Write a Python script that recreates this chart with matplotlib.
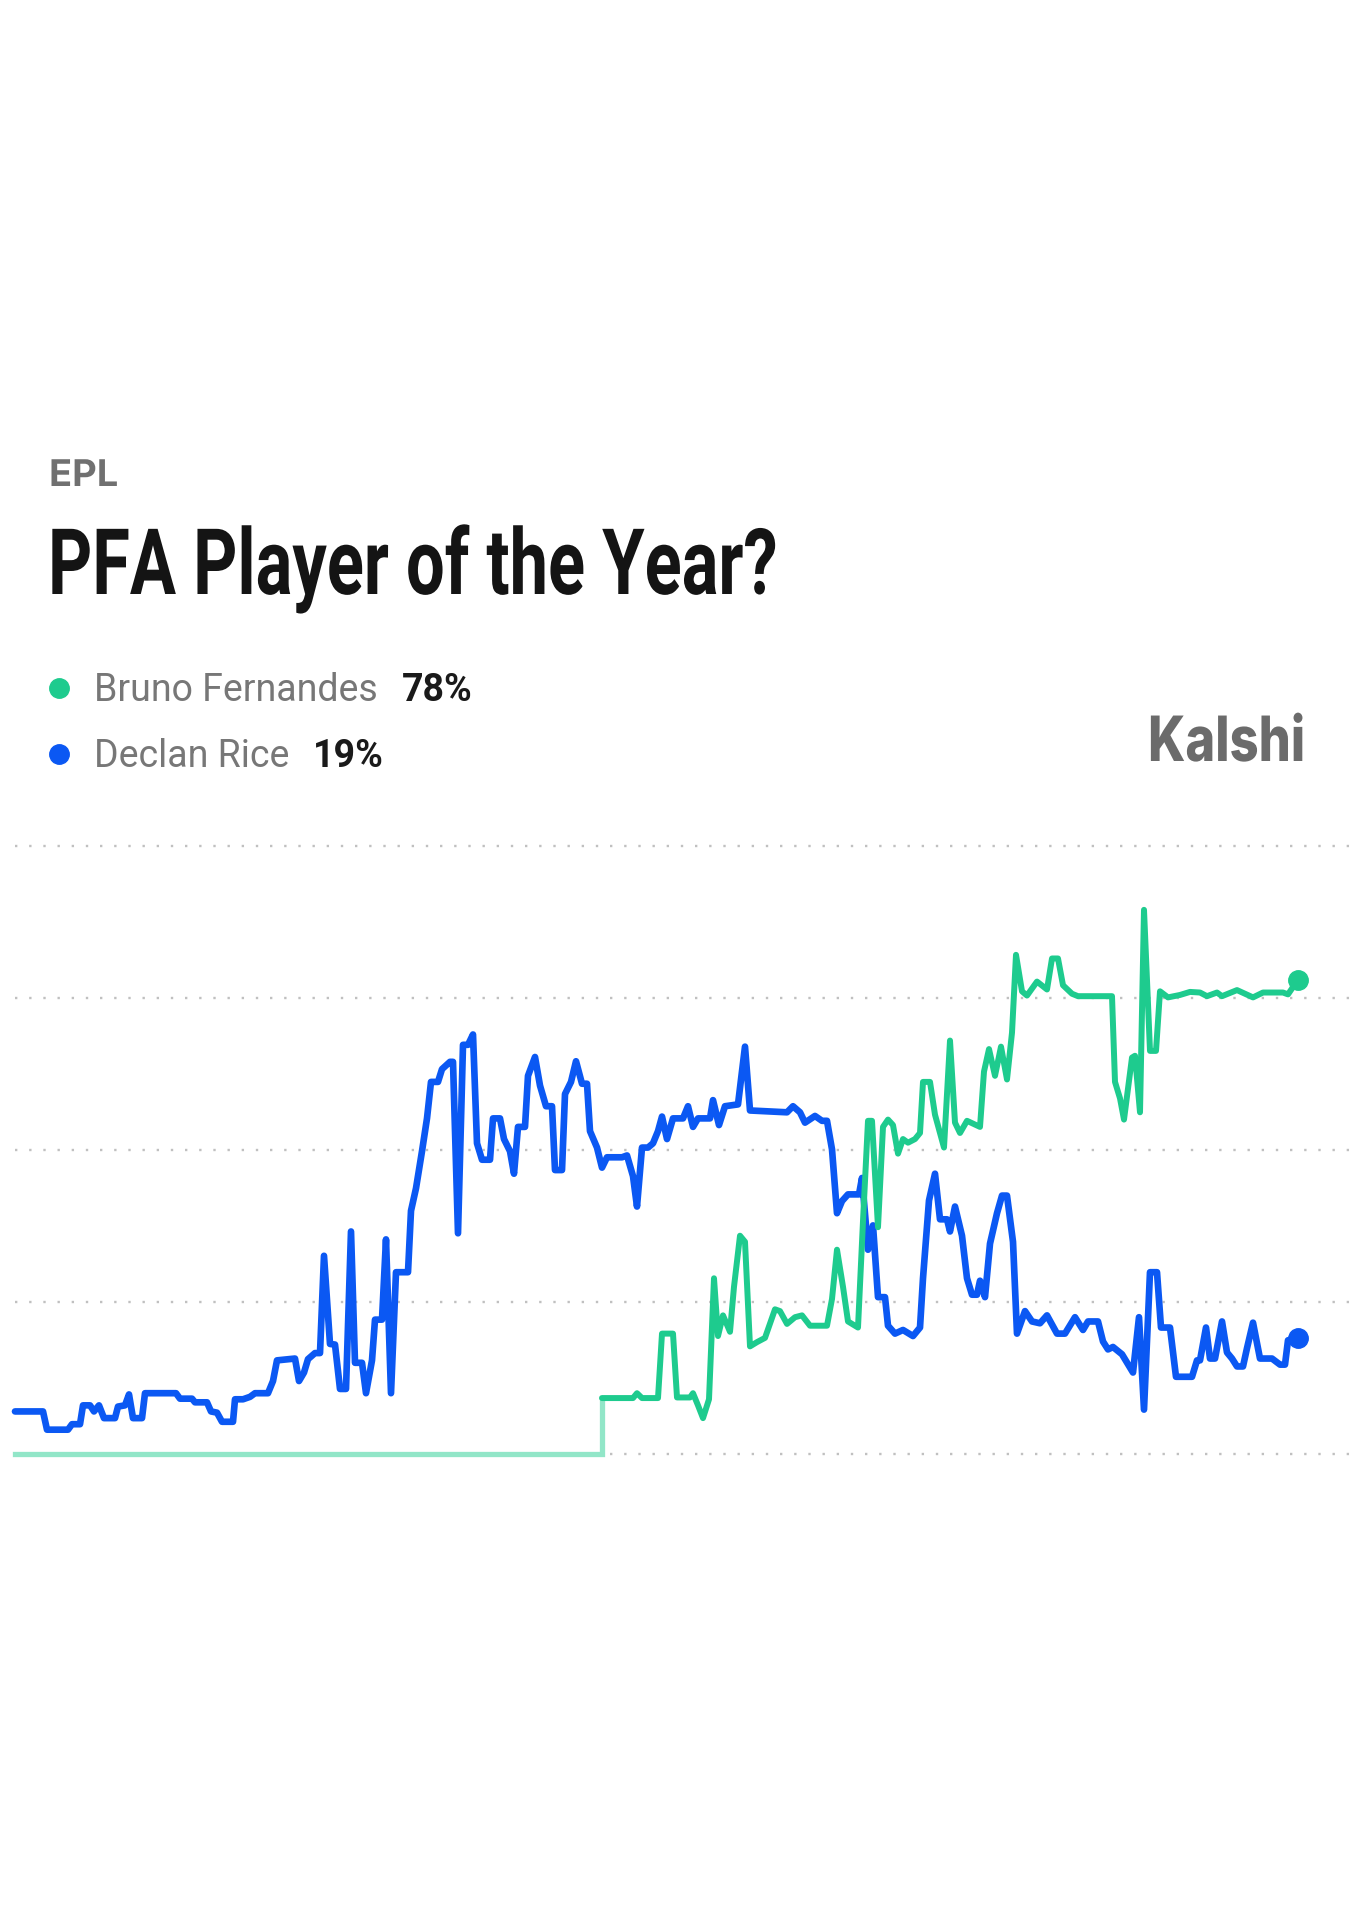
import matplotlib
matplotlib.use("Agg")
import matplotlib.pyplot as plt
from matplotlib import font_manager
from matplotlib.patheffects import AbstractPathEffect
from matplotlib.transforms import Affine2D

# ---- data (hours since market open, probability in %) ----
rice_hours = [0, 28, 32, 53, 57, 65, 68, 75, 79, 84, 89, 100, 103, 110, 114, 118, 127, 130, 161, 165,
              177, 180, 192, 196, 202, 207, 218, 220, 228, 235, 240, 253, 258, 262, 280, 284, 289, 293, 300, 305,
              309, 315, 320, 325, 331, 336, 340, 347, 351, 357, 360, 367, 371, 376, 381, 393, 396, 401, 407, 412,
              416, 423, 427, 435, 438, 443, 448, 453, 458, 462, 467, 475, 478, 485, 489, 495, 499, 503, 510, 513,
              520, 525, 531, 537, 540, 547, 550, 556, 561, 567, 572, 575, 582, 587, 592, 607, 612, 618, 622, 627,
              633, 638, 643, 647, 652, 658, 668, 673, 678, 683, 695, 698, 704, 710, 723, 730, 735, 772, 778, 785,
              790, 800, 807, 812, 817, 822, 827, 833, 844, 847, 853, 858, 863, 870, 873, 880, 888, 898, 905, 908,
              914, 920, 925, 932, 935, 940, 947, 952, 957, 962, 965, 970, 975, 982, 987, 992, 998, 1002, 1010, 1017,
              1025, 1032, 1042, 1050, 1060, 1068, 1073, 1083, 1088, 1093, 1098, 1107, 1118, 1124, 1129, 1135, 1142, 1146, 1155, 1161,
              1177, 1182, 1185, 1191, 1195, 1200, 1207, 1212, 1217, 1222, 1228, 1232, 1238, 1245, 1257, 1265, 1270, 1273, 1283]
rice_pct = [7, 7, 4, 4, 4.9, 4.9, 8, 8, 7, 8, 5.9, 5.9, 7.8, 8, 9.8, 5.9, 5.9, 10, 10, 9.1,
            9.1, 8.5, 8.5, 7, 6.8, 5.3, 5.3, 9, 9, 9.4, 10, 10, 12, 15.4, 15.7, 12, 13.4, 15.6, 16.6, 16.6,
            32.6, 18.1, 18, 10.7, 10.7, 36.6, 15, 15, 10, 15.4, 22.1, 22.1, 35.3, 10, 29.9, 29.9, 40, 43.7, 49.8, 55.2,
            61.2, 61.2, 63.3, 64.5, 64.5, 36.3, 67.3, 67.3, 69, 51.1, 48.4, 48.4, 55.2, 55.2, 51.8, 49.8, 46.1, 53.8, 53.8, 62.2,
            65.3, 60.6, 57.2, 57.2, 46.7, 46.7, 59.2, 61.2, 64.6, 60.9, 60.9, 53.1, 50.4, 47.1, 48.8, 48.8, 49.1, 45.7, 40.7, 50.4,
            50.4, 51.1, 53.1, 55.5, 51.8, 55.2, 55.2, 57.2, 53.8, 55.2, 55.2, 58.2, 54.1, 57.2, 57.5, 67, 56.5, 56.2, 57.2, 56.2,
            54.5, 55.6, 54.8, 54.8, 50.1, 39.6, 41.6, 42.7, 42.7, 45.4, 33.6, 37.6, 25.8, 25.8, 21.1, 19.8, 20.4, 19.4, 20.8, 28.9,
            41.7, 46.1, 38.6, 38.6, 36.6, 40.7, 35.9, 28.9, 26.2, 26.2, 28.5, 25.8, 34.6, 39.6, 42.5, 42.5, 34.9, 19.8, 23.5, 21.8,
            21.5, 22.8, 19.8, 19.8, 22.5, 20.4, 21.8, 21.8, 18.5, 17.2, 17.6, 16.4, 13.4, 22.5, 7.3, 29.9, 29.9, 20.8, 20.8, 12.7,
            12.7, 15.4, 15.4, 20.8, 15.7, 15.7, 21.8, 16.7, 15.7, 14.4, 14.4, 17.4, 21.6, 15.7, 15.7, 14.7, 14.7, 18.7, 19]

# Bruno had no trading until he was listed: flat 0 then a step
bruno_pre_hours = [0, 587, 587]
bruno_pre_pct = [0, 0, 9.2]

bruno_hours = [587, 618, 622, 627, 643, 647, 658, 662, 675, 678, 683, 688, 694, 699, 703, 708, 715, 719, 725, 730,
               735, 742, 750, 760, 765, 772, 780, 787, 795, 812, 817, 822, 828, 833, 843, 848, 853, 857, 863, 868,
               873, 878, 883, 888, 893, 900, 905, 908, 915, 920, 929, 935, 940, 945, 952, 965, 969, 974, 980, 986,
               992, 997, 1001, 1007, 1012, 1022, 1032, 1037, 1043, 1048, 1057, 1063, 1097, 1100, 1105, 1109, 1117, 1120, 1125, 1129,
               1135, 1141, 1145, 1153, 1165, 1175, 1185, 1192, 1202, 1207, 1222, 1238, 1248, 1268, 1273, 1283]
bruno_pct = [9.2, 9.2, 10, 9.2, 9.2, 19.8, 19.8, 9.3, 9.3, 10, 8, 5.9, 9, 28.9, 19.4, 22.8, 20.1, 27.5, 35.9, 34.9,
             17.7, 18.4, 19.1, 23.8, 23.5, 21.4, 22.5, 22.8, 21.1, 21.1, 25.5, 33.6, 27.5, 21.8, 20.8, 38.3, 54.8, 54.8, 37.3, 53.8,
             55, 54.1, 49.4, 51.8, 51.2, 51.8, 52.8, 61.2, 61.2, 55.8, 50.4, 68, 54.5, 52.8, 54.8, 53.8, 62.9, 66.6, 62.2, 67,
             61.6, 69.3, 82.1, 76.1, 75.4, 77.7, 76.4, 81.5, 81.5, 77.1, 75.7, 75.3, 75.3, 61.2, 58.5, 55, 65.2, 65.5, 56.2, 89.5,
             66.3, 66.3, 76.1, 75.1, 75.5, 76, 75.9, 75.3, 75.9, 75.3, 76.3, 75.1, 75.9, 75.9, 75.6, 78]

names = ["Bruno Fernandes", "Declan Rice"]
current = ["78%", "19%"]
grid_levels = [0, 25, 50, 75, 100]

GREEN = "#1ecb8e"
GREEN_LIGHT = "#92e6c8"
BLUE = "#0b58f3"


def weight_num(w):
    try:
        return int(w)
    except (TypeError, ValueError):
        return {"bold": 700, "heavy": 800, "black": 900, "semibold": 600, "demibold": 600}.get(str(w), 400)


bold_fams = {f.name for f in font_manager.fontManager.ttflist if weight_num(f.weight) >= 600}


def pick(cands):
    for c in cands:
        if c in bold_fams:
            return c
    return "DejaVu Sans"


head_font = pick(["Roboto", "Inter", "Open Sans", "Liberation Sans"])
logo_font = pick(["Inter", "Roboto", "Liberation Sans"])
body_bold = pick(["Roboto", "Inter", "Lato"])
body = "Roboto"


class Squeeze(AbstractPathEffect):
    """Compress glyphs horizontally around a display x position."""

    def __init__(self, sx, x0):
        super().__init__()
        self.sx, self.x0 = sx, x0

    def draw_path(self, renderer, gc, tpath, affine, rgbFace=None):
        squeeze = Affine2D().translate(-self.x0, 0).scale(self.sx, 1).translate(self.x0, 0)
        renderer.draw_path(gc, tpath, affine + squeeze, rgbFace)


W, H = 1372, 1920
fig = plt.figure(figsize=(W / 100, H / 100), dpi=100)
fig.patch.set_facecolor("white")


def fx(px):
    return px / W


def fy(py):
    return 1 - py / H


# ---- header ----
epl = fig.text(fx(49), fy(486), "EPL", fontsize=26.5, fontweight="bold", color="#707070",
               family="Inter", va="baseline", ha="left")
title = fig.text(fx(48), fy(594), "PFA Player of the Year?", fontsize=66, fontweight="bold",
                 color="#141414", family=head_font, va="baseline", ha="left")
logo = fig.text(fx(1305), fy(761), "Kalshi", fontsize=45, fontweight="heavy", color="#6b6b6b",
                family=logo_font, va="baseline", ha="right")

legend_y = [701, 767]
legend_colors = [GREEN, BLUE]
name_texts = []
for name, c, by in zip(names, legend_colors, legend_y):
    fig.lines.append(plt.Line2D([fx(59)], [fy(by - 13)], marker="o", markersize=14,
                                color=c, transform=fig.transFigure))
    name_texts.append(fig.text(fx(94), fy(by), name, fontsize=27, color="#777777", family=body,
                               va="baseline", ha="left"))

fig.canvas.draw()
r = fig.canvas.get_renderer()
tw = title.get_window_extent(r).width
title.set_path_effects([Squeeze(730 / tw, 48)])
lw_ = logo.get_window_extent(r).width
logo.set_path_effects([Squeeze(157 / lw_, 1305)])
ew = epl.get_window_extent(r).width
epl.set_path_effects([Squeeze(69 / ew, 49)])

for t, pct, by in zip(name_texts, current, legend_y):
    right = t.get_window_extent(r).x1
    fig.text(fx(right + 24), fy(by), pct, fontsize=27, fontweight="bold", color="#1a1a1a",
             family=body_bold, va="baseline", ha="left")

# ---- chart ----
ax = fig.add_axes([fx(15), fy(1454), fx(1360 - 15), (1454 - 846) / H])
ax.set_xlim(0, 1345)
ax.set_ylim(0, 100)
ax.axis("off")

for lvl in grid_levels:
    ax.axhline(lvl, color="#c0c0c0", lw=1.7, linestyle=(0, (1, 5.0)), zorder=1, clip_on=False)

ax.plot(bruno_pre_hours, bruno_pre_pct, color=GREEN_LIGHT, lw=3.8, zorder=2,
        solid_joinstyle="miter", clip_on=False)
ax.plot(rice_hours, rice_pct, color=BLUE, lw=4.8, zorder=3,
        solid_joinstyle="round", solid_capstyle="round", clip_on=False)
ax.plot(bruno_hours, bruno_pct, color=GREEN, lw=4.3, zorder=4,
        solid_joinstyle="round", solid_capstyle="round", clip_on=False)

ax.plot(bruno_hours[-1], bruno_pct[-1], "o", color=GREEN, markersize=14, zorder=5, clip_on=False)
ax.plot(rice_hours[-1], rice_pct[-1], "o", color=BLUE, markersize=14, zorder=5, clip_on=False)

fig.savefig("out.png", dpi=100, facecolor="white")
